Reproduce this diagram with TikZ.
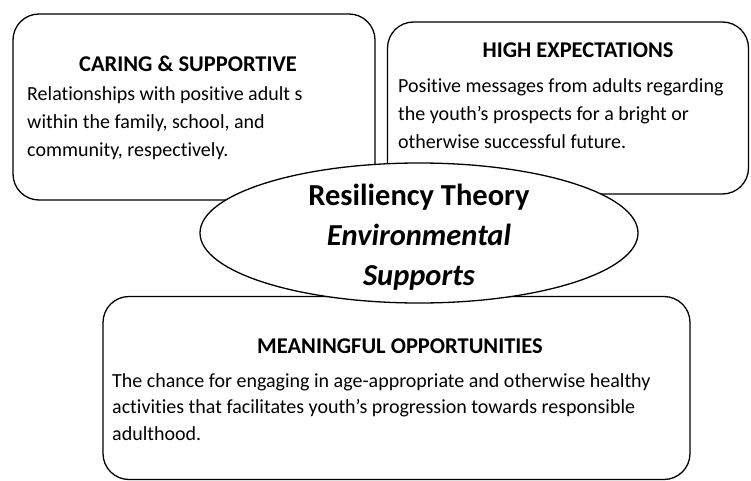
\documentclass[tikz,border=0pt]{standalone}
\usepackage{fontspec}
\setmainfont{Carlito}[Ligatures=CommonOff]
\usetikzlibrary{shapes.geometric,positioning}

\begin{document}
\begin{tikzpicture}[x=1pt,y=-1pt]

  % Definitions
  \tikzstyle{panel} = [rectangle, rounded corners=26pt, draw=black, line width=1.3pt]
  \tikzstyle{hub} = [ellipse, draw=black, fill=white, line width=1.3pt, minimum width=438pt, minimum height=140pt]
  \tikzstyle{head} = [inner sep=0pt, font=\fontsize{22.5}{26}\selectfont\bfseries]
  \tikzstyle{blurb} = [inner sep=0pt, align=left, font=\fontsize{20}{28}\selectfont]
  \tikzstyle{hubtext} = [inner sep=0pt, align=center, font=\fontsize{30.5}{40}\selectfont\bfseries]

  \useasboundingbox (0,0) rectangle (751,481);

  % boxes
  \node (caring) [panel, minimum width=362pt, minimum height=186pt] at (194,107) {};
  \node (high) [panel, minimum width=361pt, minimum height=172pt] at (568,108) {};
  \node (chance) [panel, minimum width=587pt, minimum height=183pt] at (396.5,388) {};

  % centre
  \node (hub) [hub] at (419,233) {};

  % texts (base = last line)
  \node (caringhead) [head, anchor=base] at (188,72) {CARING \& SUPPORTIVE};
  \node (caringtext) [blurb, anchor=base west] at (27,157) {Relationships with positive adult s\\within the family, school, and\\community, respectively.};

  \node (highhead) [head, anchor=base] at (578,58) {HIGH EXPECTATIONS};
  \node (hightext) [blurb, anchor=base west] at (398,149) {Positive messages from adults regarding\\the youth's prospects for a bright or\\otherwise successful future.};

  \node (chancehead) [head, anchor=base] at (400,353) {MEANINGFUL OPPORTUNITIES};
  \node (chancetext) [blurb, anchor=base west, font=\fontsize{20}{26.5}\selectfont] at (112,440) {The chance for engaging in age-appropriate and otherwise healthy\\activities that facilitates youth's progression towards responsible\\adulthood.};

  \node (hubtitle) [hubtext, yshift=-4pt] at (hub.center) {Resiliency Theory\\\textit{Environmental}\\\textit{Supports}};

\end{tikzpicture}
\end{document}
